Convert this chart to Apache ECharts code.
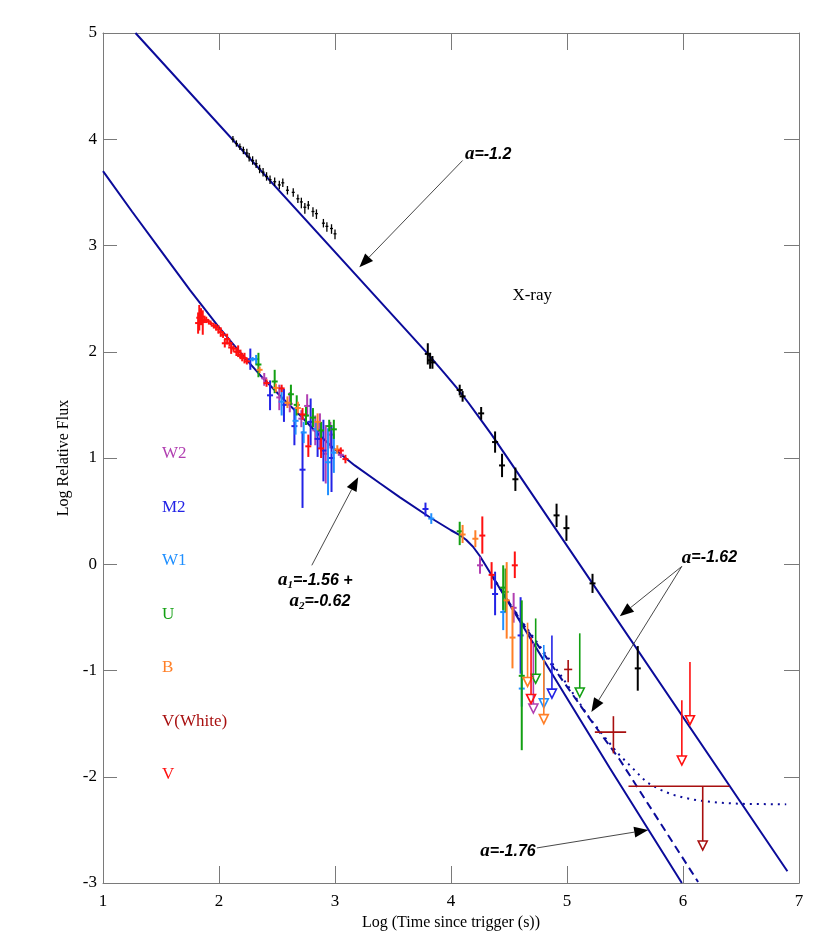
<!DOCTYPE html>
<html>
<head>
<meta charset="utf-8">
<script src="https://cdn.jsdelivr.net/npm/echarts@6/dist/echarts.min.js"></script>
<style>
  html, body { margin: 0; padding: 0; background: #fff; }
  #main { width: 830px; height: 949px; }
</style>
</head>
<body>
<div id="main"></div>
<script>
// ---- data: [x, y, yLow, yHigh] ----
const xrayEarly = [
  [2.12,4.00,3.97,4.03],[2.15,3.96,3.93,3.99],[2.18,3.93,3.90,3.96],[2.21,3.90,3.86,3.93],
  [2.24,3.87,3.83,3.91],[2.26,3.83,3.79,3.87],[2.29,3.80,3.76,3.84],[2.32,3.77,3.73,3.81],
  [2.35,3.72,3.68,3.76],[2.38,3.69,3.65,3.73],[2.41,3.65,3.61,3.69],[2.44,3.62,3.58,3.66],
  [2.48,3.60,3.56,3.64],[2.52,3.57,3.53,3.61],[2.55,3.59,3.55,3.63],[2.59,3.52,3.48,3.56],
  [2.64,3.50,3.46,3.54],[2.68,3.44,3.40,3.48],[2.71,3.41,3.35,3.45],[2.74,3.36,3.30,3.40],
  [2.77,3.38,3.34,3.42],[2.81,3.32,3.27,3.36],[2.84,3.30,3.25,3.34],[2.90,3.21,3.17,3.25],
  [2.93,3.18,3.13,3.22],[2.97,3.16,3.11,3.20],[3.00,3.11,3.06,3.15]
]
const xrayLate = [
  [3.80,1.98,1.88,2.08],[3.82,1.92,1.84,1.99],[3.84,1.90,1.84,1.96],[4.075,1.64,1.59,1.69],
  [4.10,1.58,1.53,1.63],[4.26,1.42,1.36,1.48],[4.38,1.15,1.05,1.25],[4.44,0.93,0.82,1.04],
  [4.555,0.80,0.69,0.91],[4.91,0.46,0.35,0.57],[4.995,0.34,0.22,0.46],[5.22,-0.18,-0.27,-0.09],
  [5.61,-0.98,-1.19,-0.77]
]
// optical detections [x, y, yLow, yHigh]; upper limits [x, yTop, yTip]
const w2Det = [
  [2.39,1.75,1.68,1.80],[2.52,1.57,1.45,1.69],[2.61,1.51,1.43,1.62],[2.71,1.37,1.29,1.45],
  [2.76,1.49,1.39,1.60],[2.83,1.26,1.12,1.40],[2.87,1.25,1.09,1.42],[2.92,1.04,0.76,1.31],
  [2.96,1.22,1.09,1.34],[3.05,1.03,1.00,1.07],[4.25,-0.01,-0.09,0.07],[4.54,-0.41,-0.55,-0.27]
]
const w2Lim = [[4.71,-0.74,-1.40]]
const m2Det = [
  [2.27,1.93,1.83,2.03],[2.44,1.59,1.45,1.73],[2.56,1.50,1.34,1.65],[2.65,1.30,1.12,1.47],
  [2.72,0.89,0.53,1.25],[2.79,1.34,1.12,1.56],[2.85,1.18,1.01,1.34],[2.90,1.07,0.78,1.36],
  [2.97,1.00,0.68,1.31],[3.78,0.52,0.45,0.58],[4.38,-0.28,-0.48,-0.07],[4.60,-0.67,-1.03,-0.31]
]
const m2Lim = [[4.87,-0.67,-1.26]]
const w1Det = [
  [2.29,1.93,1.91,1.95],[2.32,1.93,1.88,1.97],[2.54,1.53,1.40,1.67],[2.66,1.35,1.22,1.48],
  [2.73,1.24,1.14,1.34],[2.84,1.27,1.20,1.34],[2.94,0.96,0.65,1.28],[2.99,1.05,0.86,1.23],
  [3.83,0.43,0.38,0.48],[4.45,-0.45,-0.62,-0.27],[4.61,-1.17,-1.34,-1.00]
]
const w1Lim = [[4.80,-0.76,-1.35]]
const uDet = [
  [2.34,1.88,1.76,1.99],[2.48,1.72,1.61,1.83],[2.62,1.60,1.50,1.69],[2.67,1.50,1.40,1.59],
  [2.75,1.40,1.31,1.48],[2.81,1.38,1.29,1.47],[2.88,1.26,1.17,1.34],[2.95,1.30,1.25,1.36],
  [2.99,1.27,1.18,1.36],[4.075,0.31,0.18,0.40],[4.45,-0.22,-0.43,-0.01],[4.47,-0.26,-0.45,-0.04],
  [4.61,-1.05,-1.75,-0.34]
]
const uLim = [[4.73,-0.51,-1.12],[5.11,-0.65,-1.25]]
const bDet = [
  [2.35,1.83,1.80,1.86],[2.49,1.66,1.62,1.70],[2.59,1.52,1.47,1.58],[2.68,1.47,1.42,1.53],
  [2.85,1.34,1.26,1.42],[3.02,1.08,1.04,1.12],[4.10,0.28,0.20,0.37],[4.21,0.24,0.16,0.32],
  [4.48,-0.34,-0.70,0.02],[4.53,-0.69,-0.98,-0.40]
]
const bLim = [[4.66,-0.55,-1.15],[4.80,-0.90,-1.50]]
const vDet = [
  [1.82,2.27,2.17,2.37],[1.83,2.32,2.20,2.44],[1.845,2.33,2.25,2.41],[1.86,2.28,2.16,2.39],
  [1.875,2.30,2.27,2.34],[1.89,2.30,2.27,2.33],[1.91,2.285,2.27,2.30],[1.93,2.265,2.25,2.28],
  [1.955,2.245,2.22,2.27],[1.975,2.23,2.20,2.26],[1.995,2.21,2.17,2.25],[2.015,2.185,2.14,2.23],
  [2.035,2.16,2.13,2.19],[2.05,2.08,2.04,2.12],[2.07,2.12,2.07,2.17],[2.09,2.08,2.05,2.11],
  [2.105,2.04,1.98,2.09],[2.125,2.03,2.00,2.06],[2.15,2.00,1.96,2.04],[2.165,2.00,1.95,2.06],
  [2.185,1.97,1.93,2.02],[2.20,1.95,1.91,1.99],[2.22,1.94,1.89,1.99],[2.24,1.91,1.88,1.94],
  [2.41,1.705,1.67,1.74],[2.54,1.655,1.62,1.69],[2.72,1.41,1.36,1.47],[2.77,1.11,1.01,1.22],
  [2.88,1.09,1.00,1.19],[3.05,1.07,1.04,1.10],[3.09,0.99,0.95,1.03],
  [4.27,0.27,0.10,0.45],[4.35,-0.10,-0.23,0.02],[4.55,-0.01,-0.13,0.12]
]
const vLim = [[4.69,-0.69,-1.31],[5.99,-1.28,-1.89],[6.06,-0.92,-1.51]]
// V(White): [x, y, xLow, xHigh, yLow, yHigh]; limit [x, xLow, xHigh, yTop, yTip]
const vwDet = [[5.01,-0.99,4.975,5.045,-1.11,-0.90],[5.40,-1.58,5.24,5.51,-1.78,-1.43]]
const vwLim = [[6.17,5.53,6.40,-2.09,-2.69]]

// model curves, vertices
const xrayModel = [[1.28,5.0],[3.6,2.22],[3.8,1.98],[3.95,1.79],[4.05,1.66],[4.15,1.52],
  [4.25,1.37],[4.35,1.22],[4.45,1.06],[4.55,0.90],[6.9,-2.89]]
const optModel = [[1.0,3.70],[1.25,3.32],[1.5,2.95],[1.75,2.58],[2.0,2.23],[2.2,1.97],[2.38,1.75],
  [2.55,1.56],[2.7,1.40],[2.85,1.23],[3.0,1.08],[3.17,0.93],[3.39,0.76],[3.56,0.63],[3.82,0.44],
  [4.0,0.32],[4.075,0.275],[4.13,0.23],[4.19,0.165],[4.25,0.075],[4.36,-0.12],[5.37,-1.92],[5.99,-3.0]]
const optDashed = [[4.36,-0.12],[4.60,-0.53],[4.94,-1.06],[5.2,-1.46],[5.455,-1.84],[6.13,-2.99]]
const optDotted = [[4.36,-0.12],[4.60,-0.52],[4.95,-1.05],[5.196,-1.45],[5.43,-1.77],
  [5.684,-2.05],[5.8,-2.12],[5.9,-2.165],[6.0,-2.195],[6.115,-2.22],[6.3,-2.243],[6.5,-2.255],[6.89,-2.26]]

const filterNames = ['W2', 'M2', 'W1', 'U', 'B', 'V(White)', 'V']

// annotations: arrows [x0, y0, x1(tip), y1(tip)], labels [x, y]
const arrows = [[4.10,3.80,3.21,2.795],[2.80,-0.01,3.20,0.82],[5.99,-0.02,5.455,-0.49],
  [5.99,-0.02,5.21,-1.39],[4.74,-2.67,5.70,-2.50]]
const labelPos = [[4.12,3.86],[2.83,-0.15],[2.87,-0.35],[5.99,0.06],[4.73,-2.70],[4.70,2.53]]
const labelText = ['{i|a}{b|=-1.2}', '{i|a}{s|1}{b|=-1.56 +}', '{i|a}{s|2}{b|=-0.62}',
  '{i|a}{b|=-1.62}', '{i|a}{b|=-1.76}', '{x|X-ray}']
const labelAlign = ['left', 'center', 'center', 'left', 'right', 'center']

const colors = {
  W2: '#b13fb1', M2: '#2323e6', W1: '#1f8fff', U: '#13a013', B: '#ff7f27',
  'V(White)': '#a80f0f', V: '#ff1010'
}
const modelColor = '#0b0b9a'

const chart = echarts.init(document.getElementById('main'))

function errBars(color, width, cap) {
  return (params, api) => {
    const x = api.value(0)
    const c = api.coord([x, api.value(1)])
    const lo = api.coord([x, api.value(2)])
    const hi = api.coord([x, api.value(3)])
    const style = { stroke: color, lineWidth: width }
    return {
      type: 'group',
      children: [
        { type: 'line', shape: { x1: lo[0], y1: lo[1], x2: hi[0], y2: hi[1] }, style },
        { type: 'line', shape: { x1: c[0] - cap, y1: c[1], x2: c[0] + cap, y2: c[1] }, style }
      ]
    }
  }
}

// open triangle pointing down at the tip
const triH = 9, triW = 4.5
function limitGlyph(color) {
  return (params, api) => {
    const x = api.value(0)
    const top = api.coord([x, api.value(1)])
    const tip = api.coord([x, api.value(2)])
    return {
      type: 'group',
      children: [
        { type: 'line', shape: { x1: top[0], y1: top[1], x2: tip[0], y2: tip[1] - triH }, style: { stroke: color, lineWidth: 1.6 } },
        { type: 'polygon', shape: { points: [[tip[0] - triW, tip[1] - triH], [tip[0] + triW, tip[1] - triH], [tip[0], tip[1]]] },
          style: { stroke: color, fill: 'none', lineWidth: 1.6 } }
      ]
    }
  }
}

function bigCross(params, api) {
  const c = api.coord([api.value(0), api.value(1)])
  const l = api.coord([api.value(2), api.value(1)])
  const r = api.coord([api.value(3), api.value(1)])
  const lo = api.coord([api.value(0), api.value(4)])
  const hi = api.coord([api.value(0), api.value(5)])
  const style = { stroke: colors['V(White)'], lineWidth: 1.6 }
  return {
    type: 'group',
    children: [
      { type: 'line', shape: { x1: l[0], y1: c[1], x2: r[0], y2: c[1] }, style },
      { type: 'line', shape: { x1: c[0], y1: lo[1], x2: c[0], y2: hi[1] }, style }
    ]
  }
}

function wideLimit(params, api) {
  const x = api.value(0)
  const l = api.coord([api.value(1), api.value(3)])
  const r = api.coord([api.value(2), api.value(3)])
  const top = api.coord([x, api.value(3)])
  const tip = api.coord([x, api.value(4)])
  const color = colors['V(White)']
  return {
    type: 'group',
    children: [
      { type: 'line', shape: { x1: l[0], y1: l[1], x2: r[0], y2: r[1] }, style: { stroke: color, lineWidth: 1.6 } },
      { type: 'line', shape: { x1: top[0], y1: top[1], x2: tip[0], y2: tip[1] - triH }, style: { stroke: color, lineWidth: 1.6 } },
      { type: 'polygon', shape: { points: [[tip[0] - triW, tip[1] - triH], [tip[0] + triW, tip[1] - triH], [tip[0], tip[1]]] },
        style: { stroke: color, fill: 'none', lineWidth: 1.6 } }
    ]
  }
}

function arrowGlyph(params, api) {
  const p0 = api.coord([api.value(0), api.value(1)])
  const p1 = api.coord([api.value(2), api.value(3)])
  const dx = p1[0] - p0[0], dy = p1[1] - p0[1]
  const len = Math.sqrt(dx * dx + dy * dy)
  const ux = dx / len, uy = dy / len
  const L = 14, W = 5.5
  const bx = p1[0] - ux * L, by = p1[1] - uy * L
  return {
    type: 'group',
    children: [
      { type: 'line', shape: { x1: p0[0], y1: p0[1], x2: bx, y2: by }, style: { stroke: '#333', lineWidth: 0.9 } },
      { type: 'polygon', shape: { points: [[p1[0], p1[1]], [bx - uy * W, by + ux * W], [bx + uy * W, by - ux * W]] },
        style: { fill: '#000' } }
    ]
  }
}

const rich = {
  i: { fontFamily: 'Liberation Serif', fontStyle: 'italic', fontWeight: 'bold', fontSize: 19, fill: '#000' },
  b: { fontFamily: 'Liberation Sans', fontStyle: 'italic', fontWeight: 'bold', fontSize: 16, fill: '#000' },
  s: { fontFamily: 'Liberation Serif', fontStyle: 'italic', fontWeight: 'bold', fontSize: 11, fill: '#000', padding: [9, 0, 0, 0] },
  x: { fontFamily: 'Liberation Serif', fontSize: 17, fill: '#000' }
}

function labelGlyph(params, api) {
  const i = params.dataIndex
  const p = api.coord([api.value(0), api.value(1)])
  return {
    type: 'text',
    style: { x: p[0], y: p[1], text: labelText[i], rich, align: labelAlign[i], verticalAlign: 'middle' }
  }
}

const series = []
const lineStyleBase = { color: modelColor, width: 2 }
series.push({ type: 'line', name: 'xrayModel', data: xrayModel, showSymbol: false, lineStyle: lineStyleBase, z: 1 })
series.push({ type: 'line', name: 'optModel', data: optModel, showSymbol: false, lineStyle: lineStyleBase, z: 1 })
series.push({ type: 'line', name: 'optDashed', data: optDashed, showSymbol: false, lineStyle: { ...lineStyleBase, type: [8, 5] }, z: 1 })
series.push({ type: 'line', name: 'optDotted', data: optDotted, showSymbol: false, lineStyle: { ...lineStyleBase, type: [2, 5] }, z: 1 })

series.push({ type: 'custom', name: 'X-ray early', data: xrayEarly, renderItem: errBars('#000', 1.3, 1.5), encode: { x: 0, y: 1 }, z: 3 })
series.push({ type: 'custom', name: 'X-ray late', data: xrayLate, renderItem: errBars('#000', 2, 3), encode: { x: 0, y: 1 }, z: 3 })

const detSets = { W2: w2Det, M2: m2Det, W1: w1Det, U: uDet, B: bDet, V: vDet }
const limSets = { W2: w2Lim, M2: m2Lim, W1: w1Lim, U: uLim, B: bLim, V: vLim }
Object.keys(detSets).forEach(name => {
  series.push({ type: 'custom', name, data: detSets[name], renderItem: errBars(colors[name], 2, 3), encode: { x: 0, y: 1 }, z: 3, itemStyle: { color: colors[name] } })
  series.push({ type: 'custom', name, data: limSets[name], renderItem: limitGlyph(colors[name]), encode: { x: 0, y: 1 }, z: 3, itemStyle: { color: colors[name] } })
})
series.push({ type: 'custom', name: 'V(White)', data: vwDet, renderItem: bigCross, encode: { x: 0, y: 1 }, z: 3, itemStyle: { color: colors['V(White)'] } })
series.push({ type: 'custom', name: 'V(White)', data: vwLim, renderItem: wideLimit, encode: { x: 0, y: 3 }, z: 3, itemStyle: { color: colors['V(White)'] } })

series.push({ type: 'custom', name: 'arrows', data: arrows, renderItem: arrowGlyph, encode: { x: 0, y: 1 }, z: 5, silent: true })
series.push({ type: 'custom', name: 'labels', data: labelPos, renderItem: labelGlyph, encode: { x: 0, y: 1 }, z: 5, silent: true })

const axisGrey = '#7a7a7a'
const tickLabel = { color: '#000', fontFamily: 'Liberation Serif', fontSize: 17 }
const frameLine = { show: true, onZero: false, lineStyle: { color: axisGrey, width: 1 } }

chart.setOption({
  animation: false,
  backgroundColor: '#fff',
  grid: { left: 103, right: 31, top: 33, bottom: 66 },
  legend: {
    orient: 'vertical', left: 152, top: 439, itemGap: 35, itemWidth: 0, itemHeight: 20,
    icon: 'none', selectedMode: false,
    textStyle: { fontFamily: 'Liberation Serif', fontSize: 17 },
    data: filterNames.map(n => ({ name: n, textStyle: { color: colors[n] } }))
  },
  xAxis: [
    {
      type: 'value', min: 1, max: 7, interval: 1, position: 'bottom',
      name: 'Log (Time since trigger (s))', nameLocation: 'middle', nameGap: 29,
      nameTextStyle: { color: '#000', fontFamily: 'Liberation Serif', fontSize: 16 },
      axisLine: frameLine,
      axisTick: { inside: true, length: 17, lineStyle: { color: axisGrey } },
      axisLabel: { ...tickLabel, margin: 10 },
      splitLine: { show: false }
    },
    {
      type: 'value', min: 1, max: 7, interval: 1, position: 'top',
      axisLine: frameLine,
      axisTick: { inside: true, length: 17, lineStyle: { color: axisGrey } },
      axisLabel: { show: false }, splitLine: { show: false }
    }
  ],
  yAxis: [
    {
      type: 'value', min: -3, max: 5, interval: 1, position: 'left',
      name: 'Log Relative Flux', nameLocation: 'middle', nameGap: 28,
      nameTextStyle: { color: '#000', fontFamily: 'Liberation Serif', fontSize: 16 },
      axisLine: frameLine,
      axisTick: { show: true, inside: true, length: 14, lineStyle: { color: axisGrey } },
      axisLabel: { ...tickLabel, margin: 6 },
      splitLine: { show: false }
    },
    {
      type: 'value', min: -3, max: 5, interval: 1, position: 'right',
      axisLine: frameLine,
      axisTick: { show: true, inside: true, length: 15, lineStyle: { color: axisGrey } },
      axisLabel: { show: false }, splitLine: { show: false }
    }
  ],
  series
})
</script>
</body>
</html>
